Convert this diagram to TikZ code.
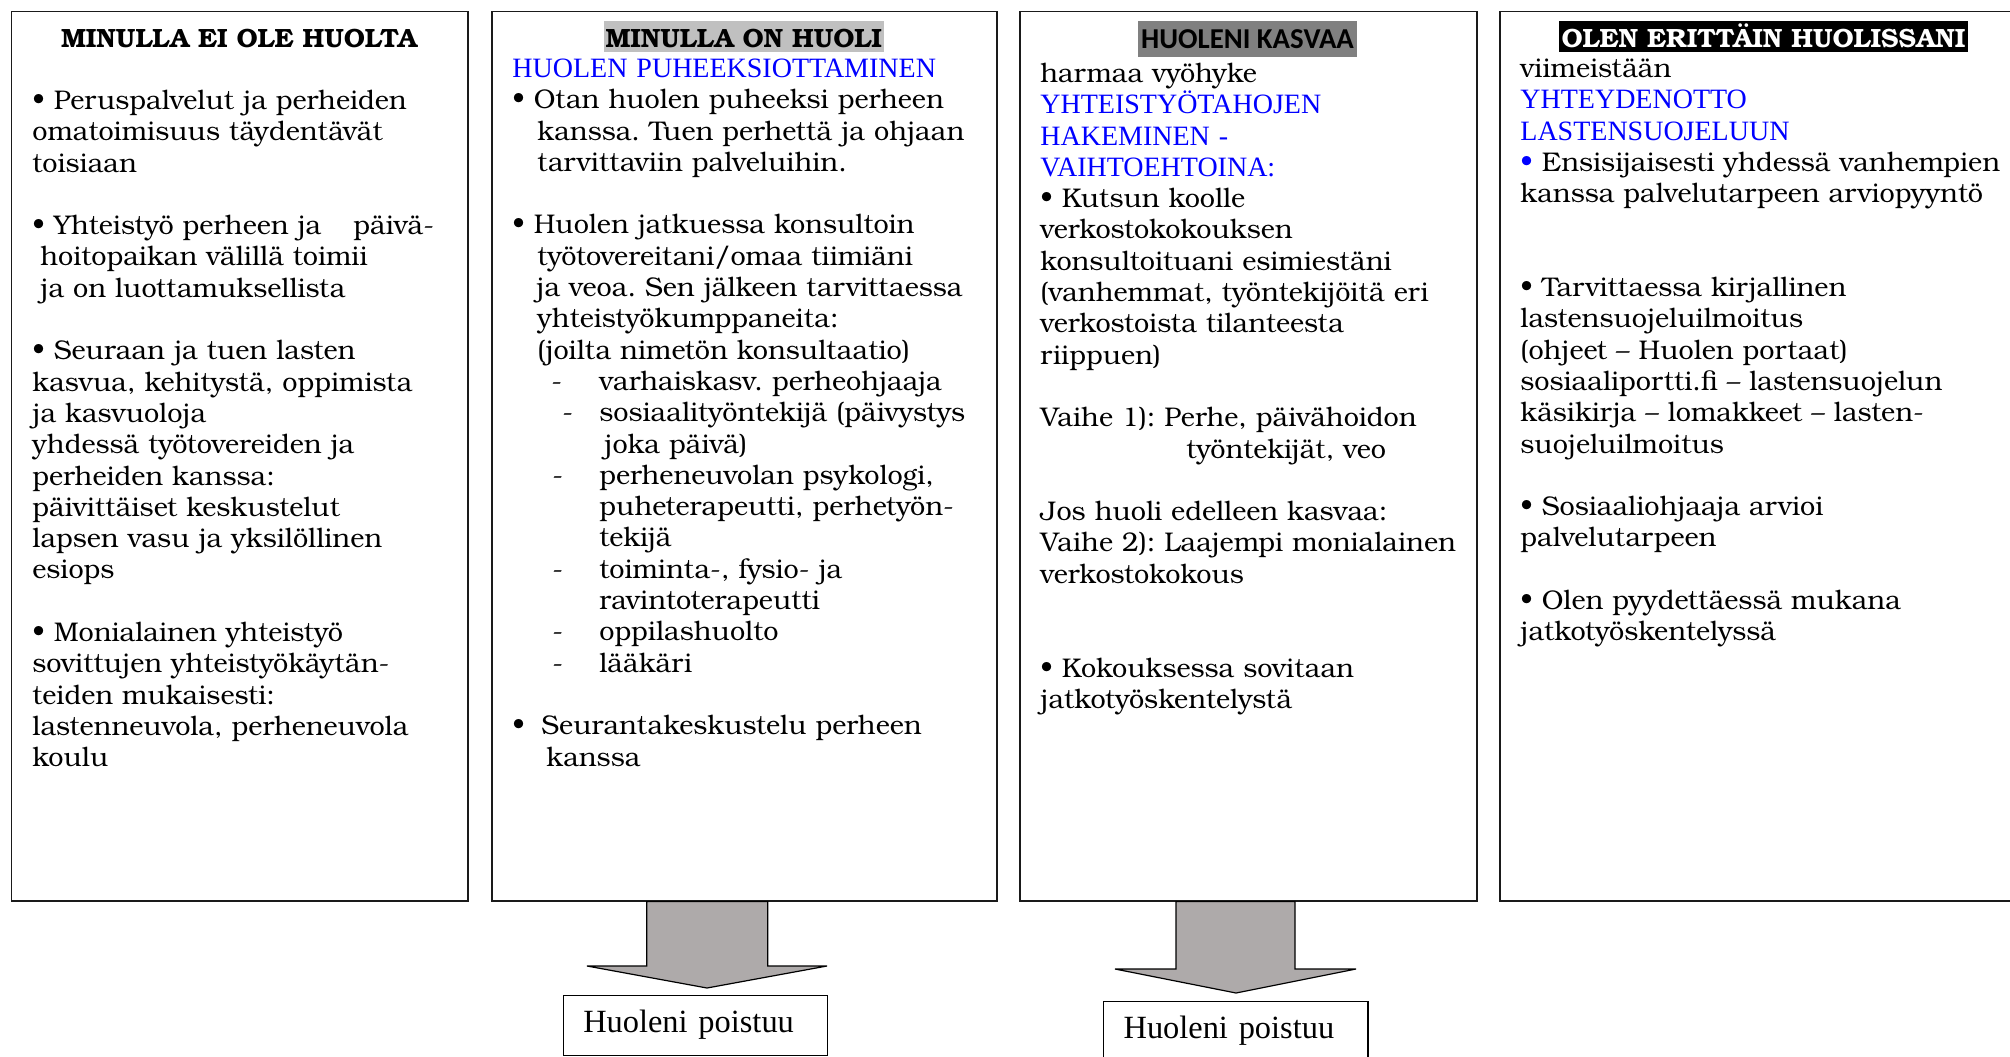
\documentclass[tikz,border=0pt]{standalone}
\usepackage{fontspec}
\setmainfont{texgyrebonum}[Extension=.otf,UprightFont=*-regular,BoldFont=*-bold,ItalicFont=*-italic,BoldItalicFont=*-bolditalic]
\newfontfamily\timesf{Liberation Serif}
\newfontfamily\calibf{Carlito}
\definecolor{hltwo}{HTML}{C0C0C0}
\definecolor{hlthree}{HTML}{808080}
\definecolor{arrowgray}{HTML}{AEAAAA}
\definecolor{framecol}{HTML}{1A1A1A}
\frenchspacing
\newcommand\bodyfont{\fontsize{13.5}{15.65}\selectfont\lineskiplimit=-20pt\relax\frenchspacing}
\newcommand\titlefont{\bfseries\fontsize{13.2}{15.65}\selectfont}
\newcommand\bluetxt[1]{{\color{blue}\timesf\fontsize{14}{15.65}\selectfont #1}}
\newcommand\fst{\rule{0pt}{12pt}}
\newcommand\emptyln{\mbox{}}
\newcommand\dashitem[2]{\makebox[43.5pt][l]{\hspace*{#1}-}#2}
\begin{document}
\begin{tikzpicture}[x=0.5pt,y=-0.5pt,
  frame/.style={draw=framecol, line width=0.8pt, anchor=north west, inner sep=0pt, minimum height=444.75pt},
  txt/.style={anchor=north west, inner sep=0pt, text width=250pt, align=left, font=\bodyfont},
  ttl/.style={anchor=base, inner xsep=1pt, inner ysep=0pt, text height=13pt, text depth=2.5pt, font=\titlefont},
  barrow/.style={draw=black, line width=0.6pt, fill=arrowgray, line join=miter},
  outbox/.style={draw=black, line width=0.6pt, anchor=north west, inner xsep=10pt, inner ysep=0pt, text width=112.15pt, align=left, minimum height=30pt, text height=10pt, text depth=3pt, font=\timesf\fontsize{16.2}{18}\selectfont}
]
\useasboundingbox (0,0) rectangle (2010,1056);
\clip (0,0) rectangle (2010,1056);

% frames
\node[frame, minimum width=228.15pt] (b1) at (10.7,10.5) {};
\node[frame, minimum width=252.5pt] (b2) at (491,10.5) {};
\node[frame, minimum width=228.5pt] (b3) at (1019,10.5) {};
\node[frame, minimum width=265.5pt] (b4) at (1499,10.5) {};

% titles
\node[ttl] (t1) at (239,47) {MINULLA EI OLE HUOLTA};
\node[ttl, fill=hltwo, minimum width=139pt] (t2) at (743.7,47) {MINULLA ON HUOLI};
\node[ttl, fill=hlthree, minimum width=109.5pt, text height=13.5pt, text depth=4.5pt, font=\calibf\bfseries\fontsize{14.4}{16}\selectfont] (t3) at (1247.5,48) {HUOLENI KASVAA};
\node[ttl, fill=black, text=white, minimum width=204.5pt] (t4) at (1763.5,47) {OLEN ERITTÄIN HUOLISSANI};

% box 1
\node[txt] (c1) at (32,85) {\fst• Peruspalvelut ja perheiden\\
omatoimisuus täydentävät\\
toisiaan\\
\emptyln\\
• Yhteistyö perheen ja\hspace{16pt}päivä-\\
\hspace*{4pt}hoitopaikan välillä toimii\\
\hspace*{4pt}ja on luottamuksellista\\
\emptyln\\
• Seuraan ja tuen lasten\\
kasvua, kehitystä, oppimista\\
ja kasvuoloja\\
yhdessä työtovereiden ja\\
perheiden kanssa:\\
päivittäiset keskustelut\\
lapsen vasu ja yksilöllinen\\
esiops\\
\emptyln\\
• Monialainen yhteistyö\\
sovittujen yhteistyökäytän-\\
teiden mukaisesti:\\
lastenneuvola, perheneuvola\\
koulu};

% box 2
\node[txt] (c2) at (512,53) {\fst\bluetxt{HUOLEN PUHEEKSIOTTAMINEN}\\
• Otan huolen puheeksi perheen\\
\hspace*{12.5pt}kanssa. Tuen perhettä ja ohjaan\\
\hspace*{12.5pt}tarvittaviin palveluihin.\\
\emptyln\\
• Huolen jatkuessa konsultoin\\
\hspace*{12.5pt}työtovereitani/omaa tiimiäni\\
\hspace*{12pt}ja veoa. Sen jälkeen tarvittaessa\\
\hspace*{12.5pt}yhteistyökumppaneita:\\
\hspace*{12.5pt}(joilta nimetön konsultaatio)\\
\dashitem{19.5pt}{varhaiskasv. perheohjaaja}\\
\dashitem{25pt}{sosiaalityöntekijä (päivystys}\\
\hspace*{46pt}joka päivä)\\
\dashitem{20pt}{perheneuvolan psykologi,}\\
\hspace*{43.5pt}puheterapeutti, perhetyön-\\
\hspace*{43.5pt}tekijä\\
\dashitem{20pt}{toiminta-, fysio- ja}\\
\hspace*{43.5pt}ravintoterapeutti\\
\dashitem{20pt}{oppilashuolto}\\
\dashitem{20pt}{lääkäri}\\
\emptyln\\
\makebox[14.5pt][l]{•}Seurantakeskustelu perheen\\
\hspace*{17pt}kanssa};

% box 3
\node[txt] (c3) at (1040,58) {\fst harmaa vyöhyke\\
\bluetxt{YHTEISTYÖTAHOJEN}\\
\bluetxt{HAKEMINEN -}\\
\bluetxt{VAIHTOEHTOINA:}\\
• Kutsun koolle\\
verkostokokouksen\\
konsultoituani esimiestäni\\
(vanhemmat, työntekijöitä eri\\
verkostoista tilanteesta\\
riippuen)\\
\emptyln\\
Vaihe 1): Perhe, päivähoidon\\
\hspace*{73pt}työntekijät, veo\\
\emptyln\\
Jos huoli edelleen kasvaa:\\
Vaihe 2): Laajempi monialainen\\
verkostokokous\\
\emptyln\\
\emptyln\\
• Kokouksessa sovitaan\\
jatkotyöskentelystä};

% box 4
\node[txt] (c4) at (1520,53) {\fst viimeistään\\
\bluetxt{YHTEYDENOTTO}\\
\bluetxt{LASTENSUOJELUUN}\\
{\color{blue}•} Ensisijaisesti yhdessä vanhempien\\
kanssa palvelutarpeen arviopyyntö\\
\emptyln\\
\emptyln\\
• Tarvittaessa kirjallinen\\
lastensuojeluilmoitus\\
(ohjeet – Huolen portaat)\\
sosiaaliportti.fi – lastensuojelun\\
käsikirja – lomakkeet – lasten-\\
suojeluilmoitus\\
\emptyln\\
• Sosiaaliohjaaja arvioi\\
palvelutarpeen\\
\emptyln\\
• Olen pyydettäessä mukana\\
jatkotyöskentelyssä};

% result boxes
\node[outbox] (o1) at (562.7,995) {Huoleni poistuu};
\node[outbox] (o2) at (1103,1001) {Huoleni poistuu};

% block arrows
\coordinate (a1tip) at (707,988);
\coordinate (a2tip) at (1236,993);
\draw[barrow] (646.7,0 |- b2.south) -- (646.7,966) -- (587,966) -- (a1tip) -- (827,966) -- (767.7,966) -- (767.7,0 |- b2.south) -- cycle;
\draw[barrow] (1176,0 |- b3.south) -- (1176,969) -- (1115,969) -- (a2tip) -- (1356,969) -- (1295,969) -- (1295,0 |- b3.south) -- cycle;
\end{tikzpicture}
\end{document}
